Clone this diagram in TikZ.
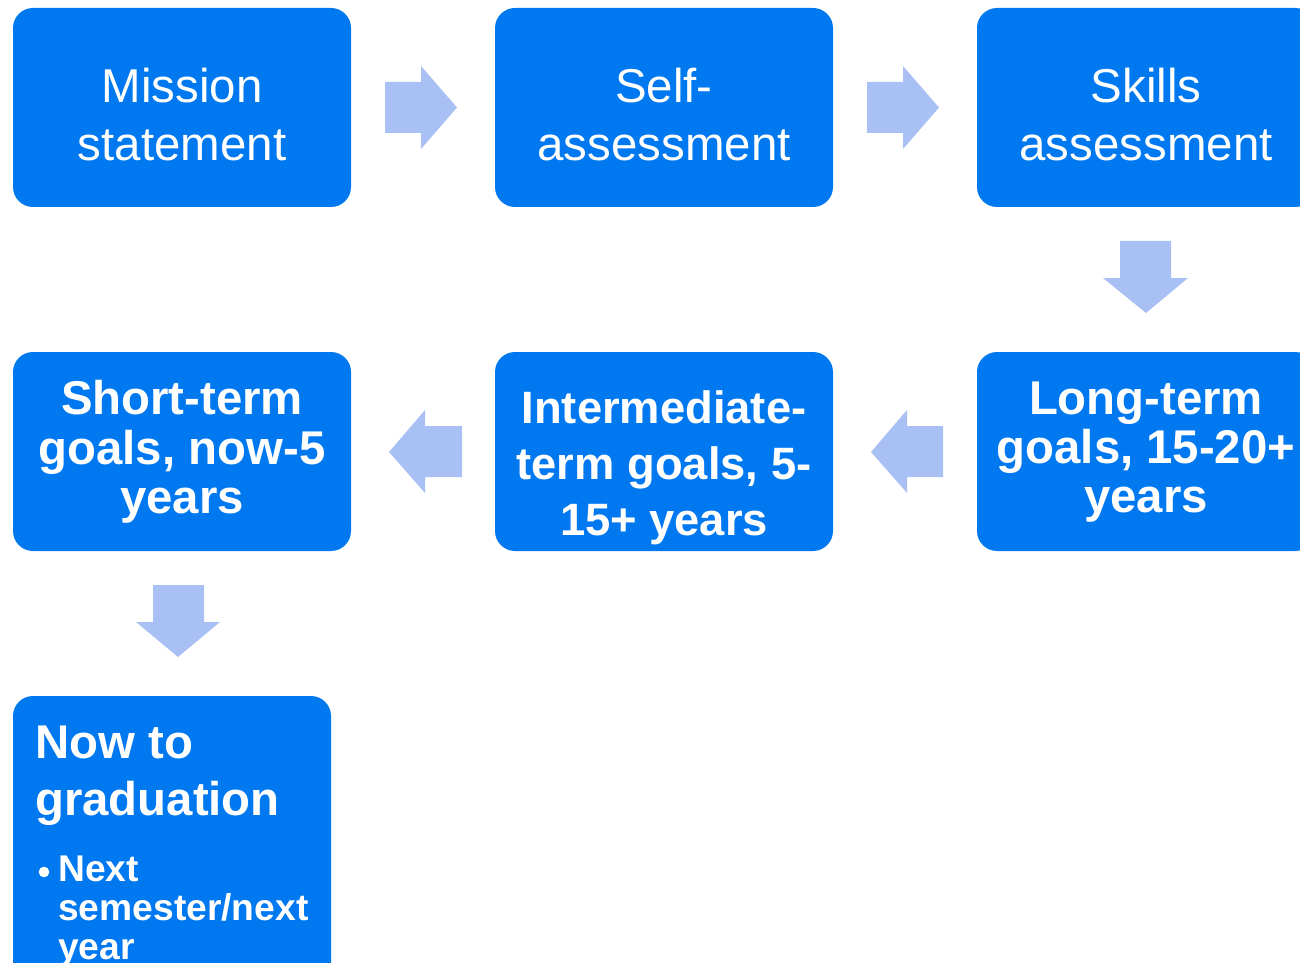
\documentclass[tikz,border=0pt]{standalone}
\usepackage{fontspec}
\setmainfont{Liberation Sans}
\definecolor{boxblue}{RGB}{0,120,240}
\definecolor{arrowblue}{RGB}{169,192,245}
\tikzset{
  stagebox/.style={fill=boxblue, rounded corners=15pt},
  blockarrow/.style={fill=arrowblue, draw=none},
  regtext/.style={text=white, align=center, inner sep=0pt, font=\fontsize{35.6}{43.5}\selectfont},
  boldtext/.style={text=white, align=center, inner sep=0pt, font=\fontsize{35.5}{37}\selectfont\bfseries},
  midtext/.style={text=white, align=center, inner sep=0pt, font=\fontsize{34}{42}\selectfont\bfseries},
}
\begin{document}
\begin{tikzpicture}[x=0.75pt,y=-0.75pt]
\useasboundingbox (0,0) rectangle (1300,963);
\clip (0,0) rectangle (1300,963);
% boxes
\path[stagebox] (13,8) rectangle (351,207);
\path[stagebox] (495,8) rectangle (833,207);
\path[stagebox] (977,8) rectangle (1315,207);
\path[stagebox] (13,352) rectangle (351,551);
\path[stagebox] (495,352) rectangle (833,551);
\path[stagebox] (977,352) rectangle (1315,551);
\path[stagebox] (13,696) rectangle (331,1020);
% texts
\node[regtext] (t1) at (182,115) {Mission\\statement};
\node[regtext] (t2) at (664,115) {Self-\\assessment};
\node[regtext] (t3) at (1146,115) {Skills\\assessment};
\node[boldtext] (t4) at (182,452) {Short-term\\goals, now-5\\years};
\node[midtext] (t5) at (664,468) {Intermediate-\\term goals, 5-\\15+ years};
\node[boldtext] (t6) at (1146,452) {Long-term\\goals, 15-20+\\years};
\node[text=white, align=left, inner sep=0pt, anchor=north west,
      font=\fontsize{35.5}{42.75}\selectfont\bfseries] (t7) at (35,726) {Now to\\graduation};
\fill[white] (44,872) circle (5.3);
\node[text=white, align=left, inner sep=0pt, anchor=north west,
      font=\fontsize{27.9}{29.25}\selectfont\bfseries] (t8) at (58,856) {Next\\semester/next\\year};
% block arrows
\path[blockarrow] (385,82) -- (421,82) -- (421,66) -- (457,107.5) -- (421,149) -- (421,133) -- (385,133) -- cycle;
\path[blockarrow] (867,82) -- (903,82) -- (903,66) -- (939,107.5) -- (903,149) -- (903,133) -- (867,133) -- cycle;
\path[blockarrow] (1120,241) -- (1171,241) -- (1171,278) -- (1188,278) -- (1146,313) -- (1103,278) -- (1120,278) -- cycle;
\path[blockarrow] (943,426) -- (907,426) -- (907,410) -- (871,452) -- (907,493) -- (907,477) -- (943,477) -- cycle;
\path[blockarrow] (462,426) -- (425,426) -- (425,410) -- (389,452) -- (425,493) -- (425,477) -- (462,477) -- cycle;
\path[blockarrow] (153,585) -- (204,585) -- (204,622) -- (220,622) -- (178,657) -- (136,622) -- (153,622) -- cycle;
\end{tikzpicture}
\end{document}
